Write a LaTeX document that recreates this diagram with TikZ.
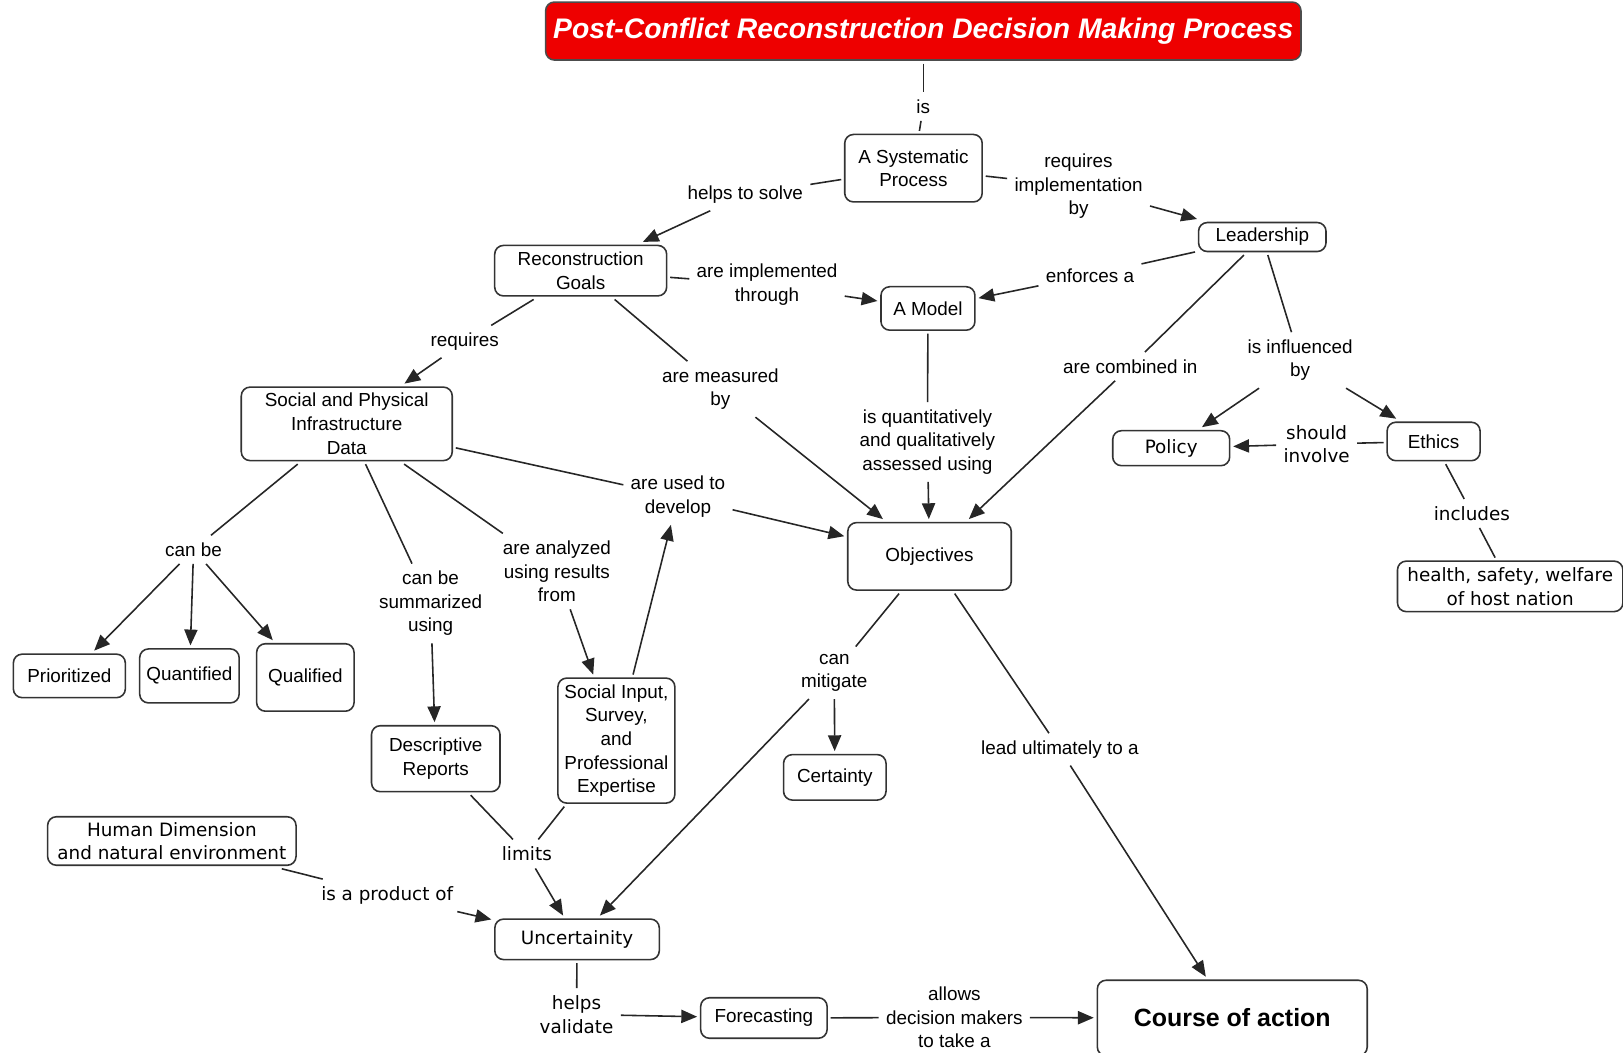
\documentclass[tikz,border=0pt]{standalone}
\usepackage{fontspec}
\setmainfont{Liberation Sans}
\newfontfamily\verdanafont{DejaVu Sans}
\usetikzlibrary{arrows.meta}

\begin{document}
\begin{tikzpicture}[x=0.0207cm, y=-0.0207cm,
  concept_box/.style={draw=black!80, line width=0.9pt, rounded corners=5pt, fill=white,
    align=center, inner sep=1pt, outer sep=2pt, font=\fontsize{10.75}{13.45}\selectfont},
  link_text/.style={align=center, inner sep=4pt, font=\fontsize{10.75}{13.45}\selectfont},
  verdana/.style={font=\verdanafont\fontsize{10.45}{13.45}\selectfont},
  link_line/.style={draw=black!85, line width=0.9pt},
  link_arrow/.style={link_line, -{Triangle[length=9pt, width=7.5pt]}}]
  \useasboundingbox (0,0) rectangle (1568,1017.3);
  % draw concept boxes
  \node[concept_box, fill={rgb,255:red,238;green,0;blue,0}, text=white, draw=black!70,
    font=\bfseries\itshape\fontsize{16.1}{19}\selectfont,
    minimum width=15.11cm, minimum height=1.16cm] (title) at (892,30) {Post-Conflict Reconstruction Decision Making Process};
  \node[concept_box, minimum width=2.75cm, minimum height=1.35cm] (systematic) at (882.5,162.5) {A Systematic\\Process};
  \node[concept_box, minimum width=2.55cm, minimum height=0.58cm] (leadership) at (1219.5,229) {Leadership};
  \node[concept_box, minimum width=3.44cm, minimum height=1.01cm] (goals) at (561,261.5) {Reconstruction\\Goals};
  \node[concept_box, minimum width=1.88cm, minimum height=0.87cm] (model) at (896.5,298) {A Model};
  \node[concept_box, verdana, minimum width=2.34cm, minimum height=0.7cm] (policy) at (1131.5,433) {Policy};
  \node[concept_box, minimum width=1.86cm, minimum height=0.77cm] (ethics) at (1385,426.5) {Ethics};
  \node[concept_box, verdana, minimum width=4.51cm, minimum height=1.01cm] (health) at (1459,566.5) {health, safety, welfare\\of host nation};
  \node[concept_box, minimum width=4.22cm, minimum height=1.47cm] (social) at (335,409.5) {Social and Physical\\Infrastructure\\Data};
  \node[concept_box, minimum width=2.24cm, minimum height=0.87cm] (prioritized) at (67,653) {Prioritized};
  \node[concept_box, minimum width=1.99cm, minimum height=1.08cm] (quantified) at (183,653) {Quantified};
  \node[concept_box, minimum width=1.95cm, minimum height=1.35cm] (qualified) at (295,654.5) {Qualified};
  \node[concept_box, minimum width=2.57cm, minimum height=1.32cm] (descriptive) at (421,733) {Descriptive\\Reports};
  \node[concept_box, minimum width=2.34cm, minimum height=2.5cm] (social_input) at (595.5,715.5) {Social Input,\\Survey,\\and\\Professional\\Expertise};
  \node[concept_box, minimum width=3.27cm, minimum height=1.35cm] (objectives) at (898,537.5) {Objectives};
  \node[concept_box, minimum width=2.05cm, minimum height=0.91cm] (certainty) at (806.5,751) {Certainty};
  \node[concept_box, verdana, minimum width=4.97cm, minimum height=0.97cm] (human) at (166,812.5) {Human Dimension\\and natural environment};
  \node[concept_box, verdana, minimum width=3.29cm, minimum height=0.81cm] (uncertainty) at (557.5,907.5) {Uncertainity};
  \node[concept_box, minimum width=2.53cm, minimum height=0.81cm] (forecasting) at (738,983.5) {Forecasting};
  \node[concept_box, font=\bfseries\fontsize{14.2}{17}\selectfont,
    minimum width=5.4cm, minimum height=1.51cm] (course) at (1190.5,983.5) {Course of action};
  % draw linking phrases
  \node[link_text] (is_lbl) at (892,103) {is};
  \node[link_text] (helps_lbl) at (720,188) {helps to solve};
  \node[link_text] (implementation_lbl) at (1042,180) {requires\\implementation\\by};
  \node[link_text] (implemented_lbl) at (741,275) {are implemented\\through};
  \node[link_text] (enforces_lbl) at (1053,266) {enforces a};
  \node[link_text] (requires_lbl) at (449,330) {requires};
  \node[link_text] (measured_lbl) at (696,376) {are measured\\by};
  \node[link_text] (combined_lbl) at (1092,354) {are combined in};
  \node[link_text] (influenced_lbl) at (1256,348) {is influenced\\by};
  \node[link_text] (assessed_lbl) at (896,427) {is quantitatively\\and qualitatively\\assessed using};
  \node[link_text, verdana] (involve_lbl) at (1272,429) {should\\involve};
  \node[link_text, verdana] (includes_lbl) at (1422,496) {includes};
  \node[link_text] (develop_lbl) at (655,480) {are used to\\develop};
  \node[link_text] (canbe_lbl) at (187,531) {can be};
  \node[link_text] (summarized_lbl) at (416,583) {can be\\summarized\\using};
  \node[link_text] (analyzed_lbl) at (538,552) {are analyzed\\using results\\from};
  \node[link_text] (mitigate_lbl) at (806,650) {can\\mitigate};
  \node[link_text] (lead_lbl) at (1024,724) {lead ultimately to a};
  \node[link_text, verdana] (limits_lbl) at (509,825) {limits};
  \node[link_text, verdana] (product_lbl) at (374,865) {is a product of};
  \node[link_text, verdana] (validate_lbl) at (557,980) {helps\\validate};
  \node[link_text] (allows_lbl) at (922,983) {allows\\decision makers\\to take a};
  % draw connectors from concepts to phrases
  \draw[link_line] (title) -- (is_lbl);
  \draw[link_line] (is_lbl) -- (systematic);
  \draw[link_line] (systematic) -- (helps_lbl);
  \draw[link_line] (systematic) -- (implementation_lbl);
  \draw[link_line] (goals) -- (implemented_lbl);
  \draw[link_line] (leadership) -- (enforces_lbl);
  \draw[link_line] (goals) -- (requires_lbl);
  \draw[link_line] (goals) -- (measured_lbl);
  \draw[link_line] (leadership) -- (combined_lbl);
  \draw[link_line] (leadership) -- (influenced_lbl);
  \draw[link_line] (model) -- (assessed_lbl);
  \draw[link_line] (ethics) -- (involve_lbl);
  \draw[link_line] (ethics) -- (includes_lbl);
  \draw[link_line] (includes_lbl) -- (health);
  \draw[link_line] (social) -- (develop_lbl);
  \draw[link_line] (social) -- (canbe_lbl);
  \draw[link_line] (social) -- (summarized_lbl);
  \draw[link_line] (social) -- (analyzed_lbl);
  \draw[link_line] (objectives) -- (mitigate_lbl);
  \draw[link_line] (objectives) -- (lead_lbl);
  \draw[link_line] (descriptive) -- (limits_lbl);
  \draw[link_line] (social_input) -- (limits_lbl);
  \draw[link_line] (human) -- (product_lbl);
  \draw[link_line] (uncertainty) -- (validate_lbl);
  \draw[link_line] (forecasting) -- (allows_lbl);
  % draw arrows from phrases to concepts
  \draw[link_arrow] (helps_lbl) -- (goals);
  \draw[link_arrow] (implementation_lbl) -- (leadership);
  \draw[link_arrow] (implemented_lbl) -- (model);
  \draw[link_arrow] (enforces_lbl) -- (model);
  \draw[link_arrow] (requires_lbl) -- (social);
  \draw[link_arrow] (measured_lbl) -- (objectives);
  \draw[link_arrow] (combined_lbl) -- (objectives);
  \draw[link_arrow] (influenced_lbl) -- (policy);
  \draw[link_arrow] (influenced_lbl) -- (ethics);
  \draw[link_arrow] (assessed_lbl) -- (objectives);
  \draw[link_arrow] (involve_lbl) -- (policy);
  \draw[link_arrow] (develop_lbl) -- (objectives);
  \draw[link_arrow] (social_input) -- (develop_lbl);
  \foreach \target in {prioritized, quantified, qualified}
    \draw[link_arrow] (canbe_lbl) -- (\target);
  \draw[link_arrow] (summarized_lbl) -- (descriptive);
  \draw[link_arrow] (analyzed_lbl) -- (social_input);
  \draw[link_arrow] (mitigate_lbl) -- (certainty);
  \draw[link_arrow] (mitigate_lbl) -- (uncertainty);
  \draw[link_arrow] (lead_lbl) -- (course);
  \draw[link_arrow] (limits_lbl) -- (uncertainty);
  \draw[link_arrow] (product_lbl) -- (uncertainty);
  \draw[link_arrow] (validate_lbl) -- (forecasting);
  \draw[link_arrow] (allows_lbl) -- (course);
\end{tikzpicture}
\end{document}
